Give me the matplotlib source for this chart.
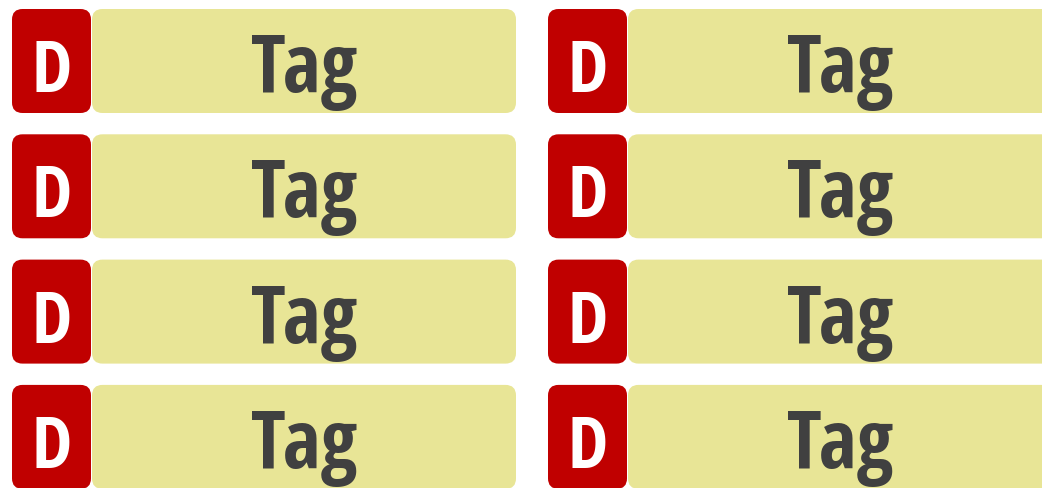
import matplotlib
matplotlib.use("Agg")
import matplotlib.pyplot as plt
from matplotlib.patches import FancyBboxPatch
from matplotlib import font_manager as fm

badge_labels = ["D", "D", "D", "D", "D", "D", "D", "D"]
tag_labels = ["Tag", "Tag", "Tag", "Tag", "Tag", "Tag", "Tag", "Tag"]
n_rows = 4
n_cols = 2

RED = "#C00000"
YELLOW = "#E8E596"
TEXT = "#404040"

avail = {f.name for f in fm.fontManager.ttflist}
cands = ["Open Sans Condensed", "Roboto Condensed", "DejaVu Sans"]
fam = [c for c in cands if c in avail]

W, H = 1042, 488
fig = plt.figure(figsize=(W / 100, H / 100), dpi=100)
ax = fig.add_axes([0, 0, 1, 1])
ax.set_xlim(0, W)
ax.set_ylim(H, 0)
ax.axis("off")

col_x = [12, 548]
badge_w = 79
gap = 1
tag_w = [424, 424]
row_y0 = 9
row_pitch = 125.3
box_h = 104
r = 10.5

for i in range(n_rows * n_cols):
    c = i // n_rows
    rr = i % n_rows
    x = col_x[c]
    y = row_y0 + rr * row_pitch
    ax.add_patch(FancyBboxPatch((x + r, y + r), badge_w - 2 * r, box_h - 2 * r,
                                boxstyle=f"round,pad={r},rounding_size={r}",
                                fc=RED, ec="none"))
    tx = x + badge_w + gap
    ax.add_patch(FancyBboxPatch((tx + r, y + r), tag_w[c] - 2 * r, box_h - 2 * r,
                                boxstyle=f"round,pad={r},rounding_size={r}",
                                fc=YELLOW, ec="none"))
    ax.text(x + badge_w / 2, y + 83, badge_labels[i], ha="center", va="baseline",
            fontsize=52, fontweight="bold", color="white", family=fam)
    ax.text(tx + tag_w[c] / 2, y + 83, tag_labels[i], ha="center", va="baseline",
            fontsize=58, fontweight="bold", color=TEXT, family=fam)

fig.savefig("out.png", dpi=100)
